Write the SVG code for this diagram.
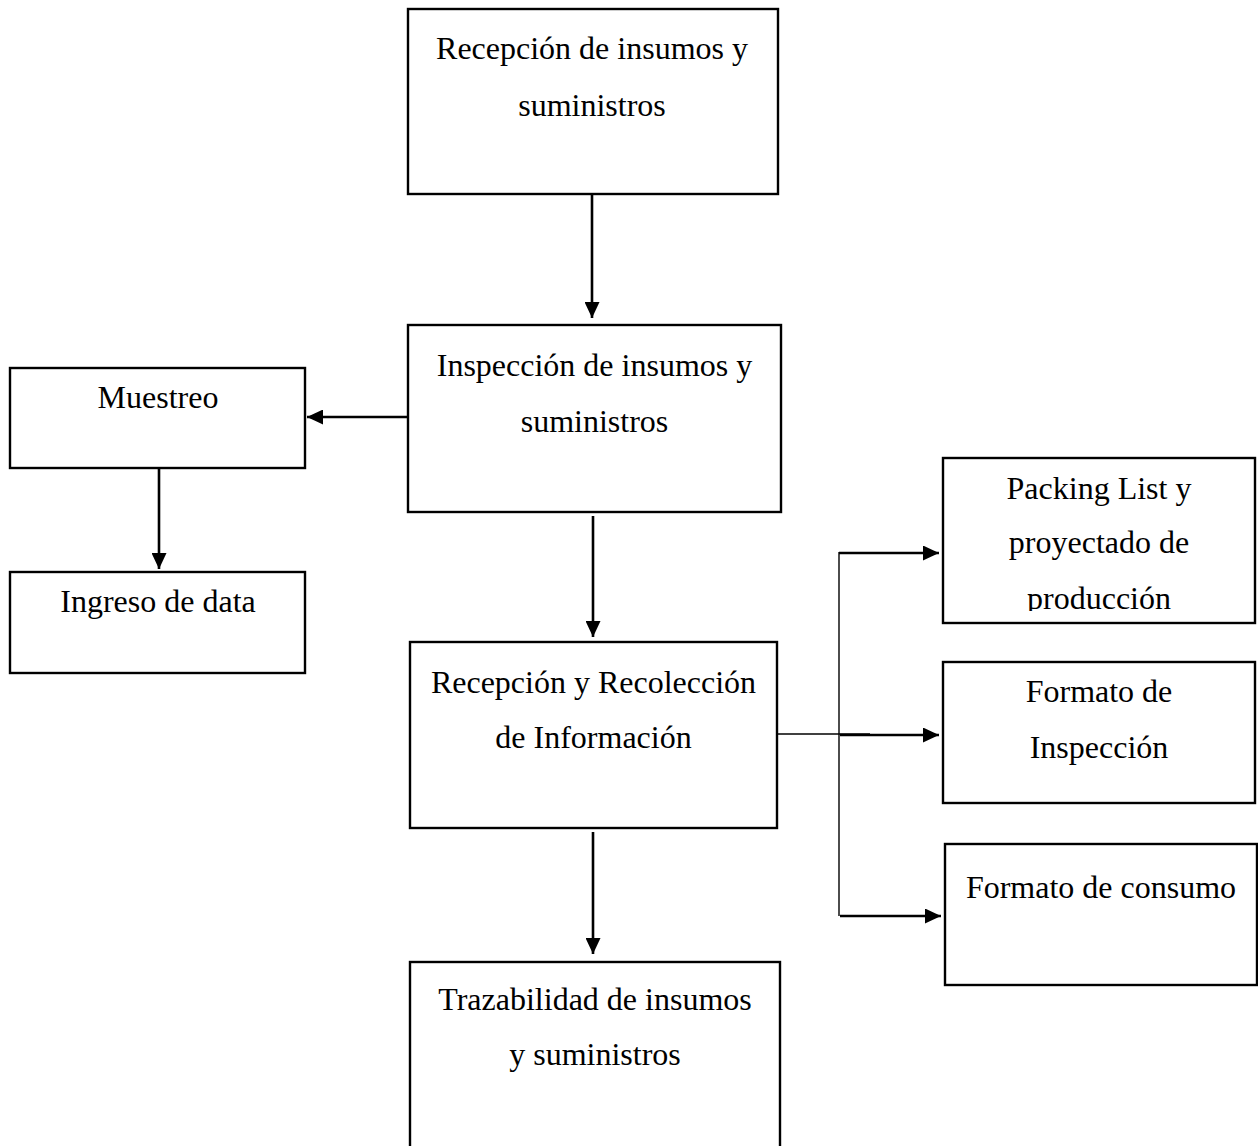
<svg xmlns="http://www.w3.org/2000/svg" width="1258" height="1146" viewBox="0 0 1258 1146">
<style>
.box{fill:#fff;stroke:#000;stroke-width:2.4}
.t{font-family:"Liberation Serif","Times New Roman",serif;font-size:32px;fill:#000;text-anchor:middle}
.c{fill:none;stroke:#000;stroke-width:2.6}
.thin{fill:none;stroke:#000;stroke-width:1.4}
</style>
<defs>
<marker id="ah" markerUnits="userSpaceOnUse" markerWidth="16" markerHeight="15" refX="16" refY="7.5" orient="auto">
<path d="M0,0 L16,7.5 L0,15 Z" fill="#000"/>
</marker>
<clipPath id="clipP"><rect x="943" y="440" width="312" height="171"/></clipPath>
</defs>
<rect width="1258" height="1146" fill="#fff"/>
<g id="connectors">
<line class="c" x1="592" y1="194" x2="592" y2="318" marker-end="url(#ah)"/>
<line class="c" x1="408" y1="417" x2="307" y2="417" marker-end="url(#ah)"/>
<line class="c" x1="159" y1="468" x2="159" y2="569" marker-end="url(#ah)"/>
<line class="c" x1="593" y1="516" x2="593" y2="637" marker-end="url(#ah)"/>
<line class="c" x1="593" y1="832" x2="593" y2="954" marker-end="url(#ah)"/>
<line class="thin" x1="777" y1="734" x2="870" y2="734"/>
<line class="thin" x1="839" y1="552" x2="839" y2="916"/>
<line class="c" x1="839" y1="553" x2="939" y2="553" marker-end="url(#ah)"/>
<line class="c" x1="840" y1="735" x2="939" y2="735" marker-end="url(#ah)"/>
<line class="c" x1="840" y1="916" x2="941" y2="916" marker-end="url(#ah)"/>
</g>
<g id="n1">
<rect class="box" x="408" y="9" width="370" height="185"/>
<text class="t" x="592" y="59">Recepción de insumos y</text>
<text class="t" x="592" y="116">suministros</text>
</g>
<g id="n2">
<rect class="box" x="408" y="325" width="373" height="187"/>
<text class="t" x="594.5" y="376">Inspección de insumos y</text>
<text class="t" x="594.5" y="432">suministros</text>
</g>
<g id="n3">
<rect class="box" x="10" y="368" width="295" height="100"/>
<text class="t" x="158" y="408">Muestreo</text>
</g>
<g id="n4">
<rect class="box" x="10" y="572" width="295" height="101"/>
<text class="t" x="158" y="612">Ingreso de data</text>
</g>
<g id="n5">
<rect class="box" x="410" y="642" width="367" height="186"/>
<text class="t" x="593.5" y="693">Recepción y Recolección</text>
<text class="t" x="593.5" y="748">de Información</text>
</g>
<g id="n6">
<rect class="box" x="410" y="962" width="370" height="200"/>
<text class="t" x="595" y="1010">Trazabilidad de insumos</text>
<text class="t" x="595" y="1065">y suministros</text>
</g>
<g id="n7">
<rect class="box" x="943" y="458" width="312" height="165"/>
<text class="t" x="1099" y="499">Packing List y</text>
<text class="t" x="1099" y="553">proyectado de</text>
<text class="t" x="1099" y="609" clip-path="url(#clipP)">producción</text>
</g>
<g id="n8">
<rect class="box" x="943" y="662" width="312" height="141"/>
<text class="t" x="1099" y="702">Formato de</text>
<text class="t" x="1099" y="758">Inspección</text>
</g>
<g id="n9">
<rect class="box" x="945" y="844" width="312" height="141"/>
<text class="t" x="1101" y="898">Formato de consumo</text>
</g>
</svg>
